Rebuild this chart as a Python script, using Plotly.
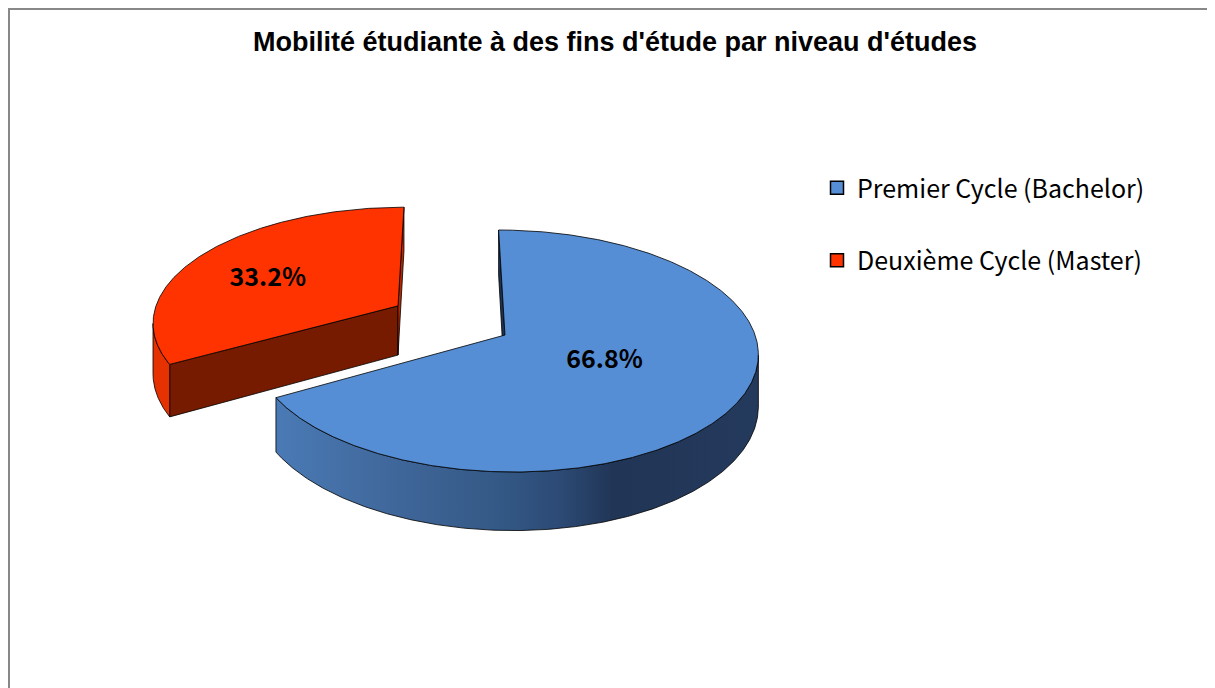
import numpy as np
import plotly.graph_objects as go

# ---------------- data ----------------
categories = ["Premier Cycle (Bachelor)", "Deuxième Cycle (Master)"]
values = [66.8, 33.2]
title_text = "Mobilité étudiante à des fins d'étude par niveau d'études"

# ---------------- style / geometry ----------------
top_colors = ["#558ED5", "#FF3300"]
rim_colors = [None, "#E53200"]
rim_gradient = [[0.0, "#4A7AB5"], [0.26, "#3F6699"], [0.46, "#345986"],
                [0.59, "#2C4A75"], [0.70, "#213556"], [1.0, "#243A5C"]]
# colour of the cut faces (start = first edge clockwise, end = last edge)
face_colors = {("start", 0): "#1E3352", ("end", 0): "#1E3352",
               ("start", 1): "#761A00", ("end", 1): "#B52800"}
label_radius = [0.44, 0.66]
label_dy = [0.0, 9.0]

W, H = 1215, 688
OFF = 8                    # page (body) margin of the html page

CX, CY = 450.6, 320.2      # projected centre (screen pixels)
RX, RY = 246.0, 115.0      # radii of the top ellipse
PERSP = 0.13               # perspective strength
THICK = 50.0               # pie thickness
EXPLODE = 0.2516           # explosion (fraction of radius)
EDGE = dict(color="rgba(0,0,0,0.8)", width=1)


def px(p):
    return (p - OFF) / W


def py(p):
    return 1 - (p - OFF) / H


def proj(X, Z, drop=0.0):
    X = np.asarray(X, dtype=float)
    Z = np.asarray(Z, dtype=float)
    k = 1.0 / (1.0 + PERSP * Z)
    return CX + RX * X * k, CY - RY * Z * k + drop * k


cam = np.array([0.0, -1.0 / PERSP])
total = float(sum(values))
slices = []
start = 90.0
for i, v in enumerate(values):
    sweep = 360.0 * v / total
    end = start - sweep
    mid = np.radians((start + end) / 2)
    off = EXPLODE * np.array([np.cos(mid), np.sin(mid)])
    slices.append(dict(i=i, start=start, end=end, mid=mid, off=off))
    start = end

fig = go.Figure()

# draw far slices first
for s in sorted(slices, key=lambda s: -s["off"][1]):
    i, ox, oz = s["i"], s["off"][0], s["off"][1]
    th = np.radians(np.linspace(s["end"], s["start"], 600))

    # radial cut faces
    for name, ang in (("start", s["start"]), ("end", s["end"])):
        a = np.radians(ang)
        if name == "start":
            n = np.array([-np.sin(a), np.cos(a)])
        else:
            n = np.array([np.sin(a), -np.cos(a)])
        p = np.array([ox + 0.5 * np.cos(a), oz + 0.5 * np.sin(a)])
        if n @ (cam - p) <= 0:
            continue
        Xs = [ox, ox + np.cos(a), ox + np.cos(a), ox, ox]
        Zs = [oz, oz + np.sin(a), oz + np.sin(a), oz, oz]
        drops = [0, 0, THICK, THICK, 0]
        pts = [proj(x, z, d) for x, z, d in zip(Xs, Zs, drops)]
        fig.add_trace(go.Scatter(x=[float(q[0]) for q in pts],
                                 y=[float(q[1]) for q in pts],
                                 mode="lines", fill="toself",
                                 fillcolor=face_colors[(name, i)], line=EDGE,
                                 hoverinfo="skip", showlegend=False))

    # outer rim (visible part only)
    Xr = ox + np.cos(th)
    Zr = oz + np.sin(th)
    vis = (np.cos(th) * (cam[0] - Xr) + np.sin(th) * (cam[1] - Zr)) > 0
    if vis.any():
        tv = th[vis]
        Xv, Zv = ox + np.cos(tv), oz + np.sin(tv)
        tx, ty = proj(Xv, Zv)
        bx, by = proj(Xv, Zv, THICK)
        rxs = np.concatenate([tx, bx[::-1], tx[:1]])
        rys = np.concatenate([ty, by[::-1], ty[:1]])
        kw = {}
        if rim_colors[i] is None:
            kw["fillgradient"] = dict(type="horizontal", colorscale=rim_gradient)
        else:
            kw["fillcolor"] = rim_colors[i]
        fig.add_trace(go.Scatter(x=rxs, y=rys, mode="lines", fill="toself",
                                 line=EDGE, hoverinfo="skip",
                                 showlegend=False, **kw))

    # top face
    tx, ty = proj(ox + np.cos(th), oz + np.sin(th))
    ax, ay = proj(ox, oz)
    fig.add_trace(go.Scatter(x=np.concatenate([[ax], tx, [ax]]),
                             y=np.concatenate([[ay], ty, [ay]]),
                             mode="lines", fill="toself",
                             fillcolor=top_colors[i], line=EDGE,
                             hoverinfo="skip", showlegend=False))

# percentage labels
for s in slices:
    i = s["i"]
    r = label_radius[i]
    lx, ly = proj(s["off"][0] + r * np.cos(s["mid"]),
                  s["off"][1] + r * np.sin(s["mid"]))
    fig.add_trace(go.Scatter(x=[float(lx)], y=[float(ly) + label_dy[i]],
                             mode="text",
                             text=[f"<b>{values[i] / total * 100:.1f}%</b>"],
                             textfont=dict(family="Noto Sans CJK JP", size=25,
                                           color="#000000"),
                             hoverinfo="skip", showlegend=False))

# legend entries
for i, c in enumerate(categories):
    fig.add_trace(go.Scatter(x=[None], y=[None], mode="markers", name=c,
                             legendgroup=c,
                             marker=dict(symbol="square", size=13,
                                         color=top_colors[i],
                                         line=dict(color="#000000", width=1.5))))

fig.update_layout(
    width=W, height=H, autosize=False,
    margin=dict(l=0, r=0, t=0, b=0),
    paper_bgcolor="#FFFFFF", plot_bgcolor="#FFFFFF",
    title=dict(text=f"<b>{title_text}</b>", x=px(615), xanchor="center",
               y=py(42), yanchor="middle",
               font=dict(family="Liberation Sans Narrow, Liberation Sans, Arial",
                         size=27, color="#000000")),
    xaxis=dict(range=[OFF, W + OFF], visible=False, fixedrange=True),
    yaxis=dict(range=[H + OFF, OFF], visible=False, fixedrange=True),
    legend=dict(x=px(817), xanchor="left", y=py(165), yanchor="top",
                font=dict(family="Noto Sans CJK JP", size=25, color="#000000"),
                tracegroupgap=37, bgcolor="rgba(0,0,0,0)"),
    shapes=[dict(type="rect", xref="paper", yref="paper",
                 x0=1 / W, x1=1.05, y0=-0.05, y1=1 - 1 / H,
                 line=dict(color="#888888", width=2), fillcolor="rgba(0,0,0,0)",
                 layer="below")],
)

fig.write_html("out.html")
